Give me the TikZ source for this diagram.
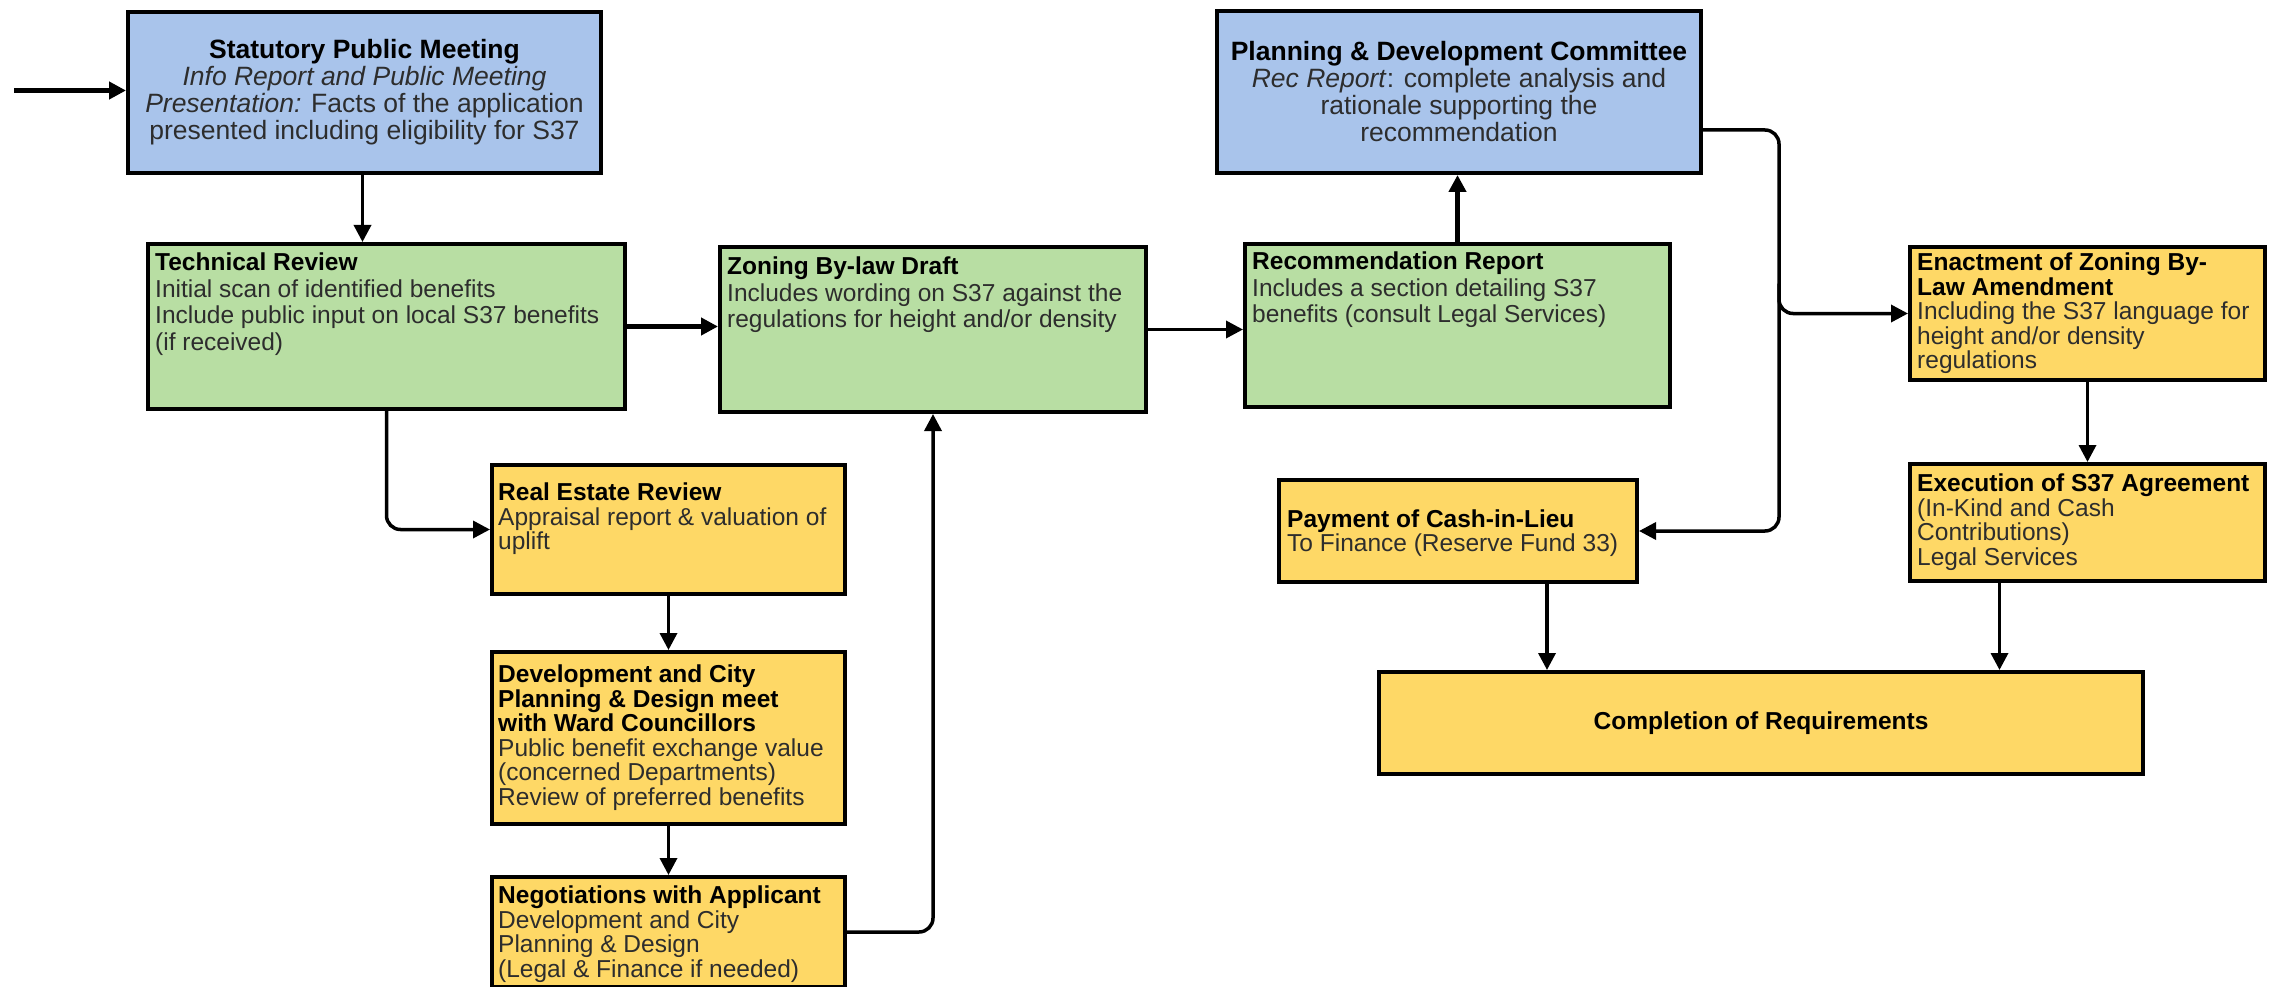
\documentclass[tikz,border=0pt]{standalone}
\usepackage{fontspec}
\setmainfont{Liberation Sans}
\usetikzlibrary{arrows.meta,calc}
\definecolor{bluebox}{RGB}{169,196,235}
\definecolor{greenbox}{RGB}{184,222,163}
\definecolor{yellowbox}{RGB}{254,216,102}
\definecolor{bodytext}{RGB}{45,45,45}
\newcommand{\boxtitle}[1]{{\color{black}\bfseries #1}}
\begin{document}
\begin{tikzpicture}[x=1pt,y=-1pt,
  boxbase/.style={draw=black, line width=4pt, rectangle, inner sep=0pt, anchor=north west},
  bluebx/.style={boxbase, fill=bluebox},
  greenbx/.style={boxbase, fill=greenbox},
  yellowbx/.style={boxbase, fill=yellowbox},
  txt/.style={inner sep=0pt, anchor=north west, align=left, text=bodytext, font=\fontsize{24.5}{24.5}\selectfont},
  gtxt/.style={txt, font=\fontsize{24.5}{26.5}\selectfont},
  ctxt/.style={inner sep=0pt, align=center, text=bodytext, font=\fontsize{26.5}{27}\selectfont},
  conn/.style={line width=3.5pt, -{Triangle[length=17pt,width=17pt]}},
  thickconn/.style={conn, line width=5pt},
]
\path[use as bounding box, fill=white] (0,0) rectangle (2273,987);

% boxes
\node[bluebx, minimum width=473pt, minimum height=161pt] (spm) at (126,10) {};
\node[greenbx, minimum width=477pt, minimum height=165pt] (tr) at (146,242) {};
\node[greenbx, minimum width=426pt, minimum height=165pt] (zon) at (718,245) {};
\node[greenbx, minimum width=425pt, minimum height=163pt] (rec) at (1243,242) {};
\node[bluebx, minimum width=484pt, minimum height=162pt] (pdc) at (1215,9) {};
\node[yellowbx, minimum width=353pt, minimum height=129pt] (rer) at (490,463) {};
\node[yellowbx, minimum width=353pt, minimum height=172pt] (dev) at (490,650) {};
\node[yellowbx, minimum width=353pt, minimum height=110pt] (neg) at (490,875) {};
\node[yellowbx, minimum width=358pt, minimum height=102pt] (pay) at (1277,478) {};
\node[yellowbx, minimum width=355pt, minimum height=133pt] (enact) at (1908,245) {};
\node[yellowbx, minimum width=355pt, minimum height=117pt] (exec) at (1908,462) {};
\node[yellowbx, minimum width=764pt, minimum height=102pt] (comp) at (1377,670) {};

% texts
\node[ctxt] (spmT) at (spm.center) {\boxtitle{Statutory Public Meeting}\\
  \textit{Info Report and Public Meeting}\\
  \textit{Presentation:} Facts of the application\\
  presented including eligibility for S37};
\node[gtxt] (trT) at ([shift={(9,11)}]tr.north west) {\boxtitle{Technical Review}\\
  Initial scan of identified benefits\\
  Include public input on local S37 benefits\\
  (if received)};
\node[gtxt] (zonT) at ([shift={(9,12)}]zon.north west) {\boxtitle{Zoning By-law Draft}\\
  Includes wording on S37 against the\\
  regulations for height and/or density};
\node[gtxt] (recT) at ([shift={(9,10)}]rec.north west) {\boxtitle{Recommendation Report}\\
  Includes a section detailing S37\\
  benefits (consult Legal Services)};
\node[ctxt] (pdcT) at (pdc.center) {\boxtitle{Planning \& Development Committee}\\
  \textit{Rec Report}: complete analysis and\\
  rationale supporting the\\
  recommendation};
\node[txt] (rerT) at ([shift={(8,20)}]rer.north west) {\boxtitle{Real Estate Review}\\
  Appraisal report \& valuation of\\
  uplift};
\node[txt] (devT) at ([shift={(8,15)}]dev.north west) {\boxtitle{Development and City}\\
  \boxtitle{Planning \& Design meet}\\
  \boxtitle{with Ward Councillors}\\
  Public benefit exchange value\\
  (concerned Departments)\\
  Review of preferred benefits};
\node[txt] (negT) at ([shift={(8,11)}]neg.north west) {\boxtitle{Negotiations with Applicant}\\
  Development and City\\
  Planning \& Design\\
  (Legal \& Finance if needed)};
\node[txt, anchor=west] (payT) at ([shift={(10,2)}]pay.west) {\boxtitle{Payment of Cash-in-Lieu}\\
  To Finance (Reserve Fund 33)};
\node[txt] (enactT) at ([shift={(9,8)}]enact.north west) {\boxtitle{Enactment of Zoning By-}\\
  \boxtitle{Law Amendment}\\
  Including the S37 language for\\
  height and/or density\\
  regulations};
\node[txt] (execT) at ([shift={(9,12)}]exec.north west) {\boxtitle{Execution of S37 Agreement}\\
  (In-Kind and Cash\\
  Contributions)\\
  Legal Services};
\node[ctxt, font=\fontsize{24.5}{24.5}\selectfont] (compT) at (comp.center) {\boxtitle{Completion of Requirements}};

% connectors
\coordinate (start) at (14,90.5);
\draw[thickconn] (start) -- (start -| spm.west);
\draw[conn] ([xshift=-2pt]spm.south) -- ([xshift=-2pt]spm.south |- tr.north);
\draw[conn, line width=4.5pt] (tr.east) -- (tr.east -| zon.west);
\draw[conn, rounded corners=14pt] (tr.south) |- (rer.west);
\draw[conn] (rer.south) -- (dev.north);
\draw[conn] (dev.south) -- (neg.north);
\draw[conn, rounded corners=14pt] (neg.east) -| (zon.south);
\draw[conn] (zon.east) -- (zon.east -| rec.west);
\draw[thickconn] (rec.north) -- (rec.north |- pdc.south);
\coordinate (bus) at (1779,0);
\coordinate (pdcout) at ($(pdc.east)+(0,38)$);
\draw[conn, rounded corners=14pt] (pdcout) -| (bus |- pay.east) -- (pay.east);
\draw[conn, rounded corners=14pt] ($(bus |- enact.west)+(0,-30)$) |- (enact.west);
\draw[conn] (enact.south) -- (exec.north);
\coordinate (payout) at ($(pay.south)+(89,0)$);
\draw[conn] (payout) -- (payout |- comp.north);
\coordinate (execout) at ($(exec.south)+(-88,0)$);
\draw[conn] (execout) -- (execout |- comp.north);
\end{tikzpicture}
\end{document}
